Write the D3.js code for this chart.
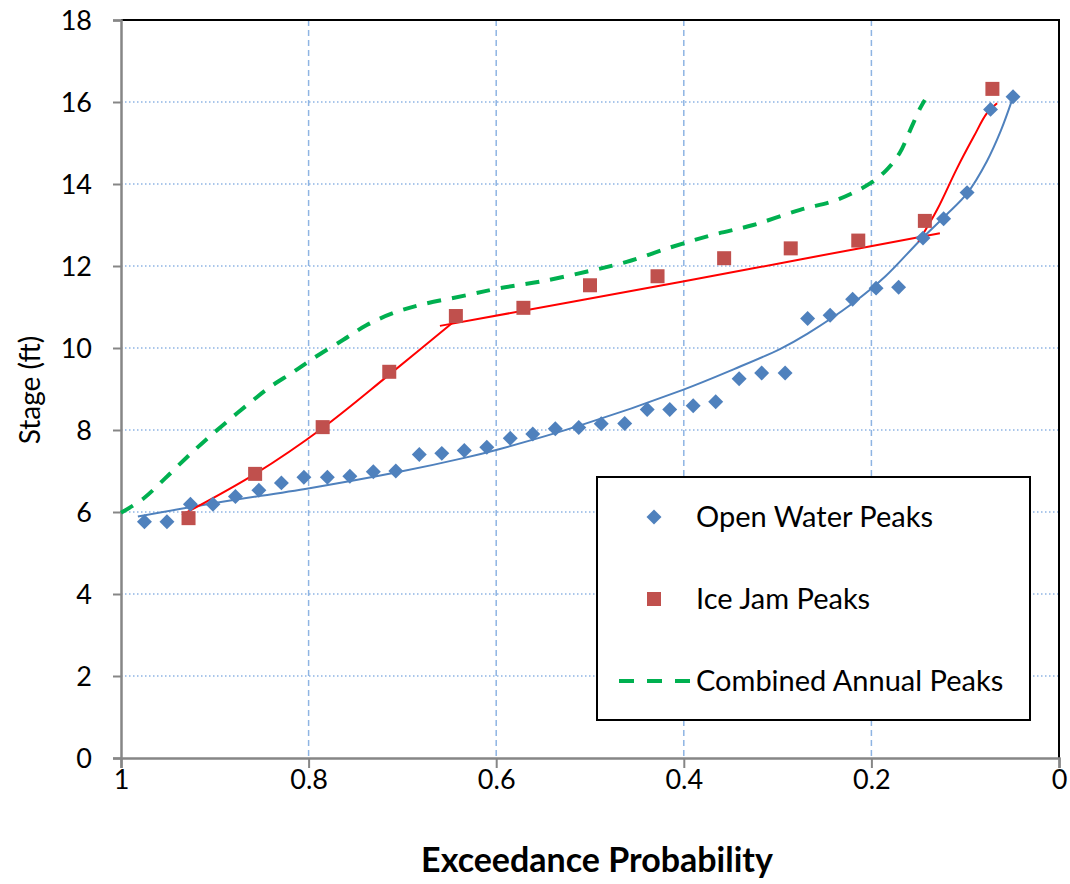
<!DOCTYPE html>
<html>
<head>
<meta charset="utf-8">
<script src="https://cdn.jsdelivr.net/npm/d3@7"></script>
<style>
  body { margin: 0; background: #fff; }
  text { font-family: Lato, "Open Sans", sans-serif; fill: #000; }
</style>
</head>
<body>
<div id="chart"></div>
<script>
// open water peaks (exceedance probability, stage ft)
var openP = [0.975, 0.951, 0.926, 0.902, 0.878, 0.853, 0.829, 0.805, 0.780, 0.756,
             0.731, 0.707, 0.682, 0.658, 0.634, 0.610, 0.585, 0.561, 0.537, 0.512,
             0.488, 0.463, 0.439, 0.415, 0.390, 0.366, 0.341, 0.317, 0.292, 0.268,
             0.244, 0.220, 0.195, 0.171, 0.145, 0.123, 0.098, 0.073, 0.049];
var openStage = [5.76, 5.76, 6.19, 6.19, 6.38, 6.53, 6.71, 6.85, 6.85, 6.87,
                 6.98, 7.00, 7.40, 7.43, 7.50, 7.58, 7.80, 7.90, 8.03, 8.06,
                 8.15, 8.16, 8.50, 8.50, 8.59, 8.69, 9.25, 9.39, 9.39, 10.72,
                 10.80, 11.19, 11.46, 11.48, 12.68, 13.15, 13.79, 15.82, 16.13];

// ice jam peaks
var iceP = [0.928, 0.857, 0.785, 0.714, 0.643, 0.571, 0.500, 0.428, 0.357, 0.286, 0.214, 0.143, 0.071];
var iceStage = [5.85, 6.93, 8.07, 9.42, 10.78, 10.98, 11.53, 11.75, 12.19, 12.43, 12.62, 13.10, 16.32];

// open water fitted curve
var openFitP = [0.982, 0.900, 0.799, 0.703, 0.634, 0.599, 0.512, 0.401, 0.347, 0.297, 0.268,
                0.220, 0.185, 0.148, 0.120, 0.098, 0.077, 0.062, 0.050];
var openFitStage = [5.89, 6.22, 6.58, 6.98, 7.32, 7.52, 8.10, 8.98, 9.48, 9.98, 10.35,
                    11.09, 11.75, 12.63, 13.25, 13.77, 14.55, 15.30, 16.05];

// ice jam fitted segments
var iceFit1P = [0.935, 0.857, 0.785, 0.714, 0.642];
var iceFit1Stage = [5.93, 6.93, 8.05, 9.35, 10.70];
var iceFit2P = [0.660, 0.401, 0.276, 0.127];
var iceFit2Stage = [10.54, 11.62, 12.16, 12.80];
var iceFit3P = [0.150, 0.130, 0.109, 0.091, 0.077, 0.066];
var iceFit3Stage = [12.59, 13.37, 14.37, 15.15, 15.72, 15.97];

// combined annual peaks curve
var combP = [1.000, 0.976, 0.953, 0.930, 0.909, 0.884, 0.859, 0.841, 0.816, 0.795,
             0.763, 0.738, 0.710, 0.681, 0.631, 0.596, 0.553, 0.504, 0.461, 0.412,
             0.369, 0.326, 0.276, 0.237, 0.201, 0.184, 0.170, 0.157, 0.148, 0.143];
var combStage = [5.98, 6.33, 6.82, 7.33, 7.77, 8.26, 8.73, 9.05, 9.42, 9.75,
                 10.20, 10.56, 10.85, 11.05, 11.29, 11.46, 11.62, 11.86, 12.10, 12.47,
                 12.76, 13.00, 13.37, 13.61, 14.02, 14.34, 14.75, 15.40, 15.85, 16.05];

var xTicks = [1, 0.8, 0.6, 0.4, 0.2, 0];
var yTicks = [0, 2, 4, 6, 8, 10, 12, 14, 16, 18];
var legendLabels = ['Open Water Peaks', 'Ice Jam Peaks', 'Combined Annual Peaks'];

var W = 1070, H = 884;
var pLeft = 121, pRight = 1059, pTop = 20, pBottom = 758;

function pairs(xs, ys) { return xs.map(function(x, i) { return {x: x, y: ys[i]}; }); }

var xScale = d3.scaleLinear().domain([1, 0]).range([pLeft, pRight]);
var yScale = d3.scaleLinear().domain([0, 18]).range([pBottom, pTop]);

var svg = d3.select('#chart').append('svg')
    .attr('width', W)
    .attr('height', H);

// grid lines
svg.append('g').selectAll('line')
    .data(yTicks.filter(function(d) { return d > 0 && d < 18; }))
    .enter().append('line')
    .attr('x1', pLeft).attr('x2', pRight)
    .attr('y1', function(d) { return yScale(d); })
    .attr('y2', function(d) { return yScale(d); })
    .attr('stroke', '#8EB4E3')
    .attr('stroke-width', 1.5)
    .attr('stroke-dasharray', '1.5,2.5');

svg.append('g').selectAll('line')
    .data(xTicks.filter(function(d) { return d > 0 && d < 1; }))
    .enter().append('line')
    .attr('x1', function(d) { return xScale(d); })
    .attr('x2', function(d) { return xScale(d); })
    .attr('y1', pTop).attr('y2', pBottom)
    .attr('stroke', '#8EB4E3')
    .attr('stroke-width', 1.5)
    .attr('stroke-dasharray', '6,4');

// plot border (top/right black)
svg.append('path')
    .attr('d', 'M' + pLeft + ',' + pTop + 'H' + pRight + 'V' + pBottom)
    .attr('fill', 'none')
    .attr('stroke', '#000')
    .attr('stroke-width', 2);

// axes
var xAxis = d3.axisBottom(xScale).tickValues(xTicks).tickSize(10).tickFormat(d3.format('~g'));
var yAxis = d3.axisLeft(yScale).tickValues(yTicks).tickSize(8).tickFormat(d3.format('d'));

var gx = svg.append('g')
    .attr('transform', 'translate(0,' + pBottom + ')')
    .call(xAxis);
var gy = svg.append('g')
    .attr('transform', 'translate(' + pLeft + ',0)')
    .call(yAxis);

[gx, gy].forEach(function(g) {
  g.select('.domain').attr('stroke', '#868686').attr('stroke-width', 2.5);
  g.selectAll('.tick line').attr('stroke', '#868686').attr('stroke-width', 2);
  g.selectAll('.tick text')
    .style('font-family', 'Lato, sans-serif')
    .style('font-size', '27px')
    .attr('fill', '#000');
});
gx.selectAll('.tick text').attr('dy', '0').attr('y', 31);
gy.selectAll('.tick text').attr('x', -29).attr('dy', '0.36em');

// axis titles
svg.append('text')
    .attr('x', 597)
    .attr('y', 872)
    .attr('text-anchor', 'middle')
    .style('font-size', '34px')
    .style('font-weight', 'bold')
    .text('Exceedance Probability');

svg.append('text')
    .attr('transform', 'translate(40,390) rotate(-90)')
    .attr('text-anchor', 'middle')
    .style('font-size', '28px')
    .text('Stage (ft)');

var line = d3.line()
    .curve(d3.curveCatmullRom.alpha(0.5))
    .x(function(d) { return xScale(d.x); })
    .y(function(d) { return yScale(d.y); });

// fitted lines
svg.append('path')
    .attr('d', line(pairs(openFitP, openFitStage)))
    .attr('fill', 'none')
    .attr('stroke', '#4F81BD')
    .attr('stroke-width', 2);

[[iceFit1P, iceFit1Stage], [iceFit2P, iceFit2Stage], [iceFit3P, iceFit3Stage]].forEach(function(s) {
  svg.append('path')
      .attr('d', line(pairs(s[0], s[1])))
      .attr('fill', 'none')
      .attr('stroke', '#FF0000')
      .attr('stroke-width', 2);
});

// points
var diamond = d3.symbol().type(d3.symbolSquare).size(112);
svg.append('g').selectAll('path')
    .data(pairs(openP, openStage))
    .enter().append('path')
    .attr('d', diamond)
    .attr('transform', function(d) { return 'translate(' + xScale(d.x) + ',' + yScale(d.y) + ') rotate(45)'; })
    .attr('fill', '#4F81BD');

svg.append('g').selectAll('rect')
    .data(pairs(iceP, iceStage))
    .enter().append('rect')
    .attr('x', function(d) { return xScale(d.x) - 7; })
    .attr('y', function(d) { return yScale(d.y) - 7; })
    .attr('width', 14)
    .attr('height', 14)
    .attr('fill', '#C0504D');

// combined dashed line
svg.append('path')
    .attr('d', line(pairs(combP, combStage)))
    .attr('fill', 'none')
    .attr('stroke', '#00B050')
    .attr('stroke-width', 4)
    .attr('stroke-dasharray', '14,11');

// legend
var lg = svg.append('g');
lg.append('rect')
    .attr('x', 597).attr('y', 477)
    .attr('width', 433).attr('height', 243)
    .attr('fill', '#fff')
    .attr('stroke', '#000')
    .attr('stroke-width', 2);

var legY = [517, 599, 681];
lg.append('path')
    .attr('d', d3.symbol().type(d3.symbolSquare).size(112))
    .attr('transform', 'translate(654,' + legY[0] + ') rotate(45)')
    .attr('fill', '#4F81BD');
lg.append('rect')
    .attr('x', 647).attr('y', legY[1] - 7)
    .attr('width', 14).attr('height', 14)
    .attr('fill', '#C0504D');
lg.append('line')
    .attr('x1', 619).attr('x2', 690)
    .attr('y1', legY[2]).attr('y2', legY[2])
    .attr('stroke', '#00B050')
    .attr('stroke-width', 4)
    .attr('stroke-dasharray', '15,13');

lg.selectAll('text.lab')
    .data(legendLabels)
    .enter().append('text')
    .attr('class', 'lab')
    .attr('x', 696)
    .attr('y', function(d, i) { return legY[i]; })
    .attr('dy', '0.36em')
    .style('font-size', '29px')
    .text(function(d) { return d; });
</script>
</body>
</html>
